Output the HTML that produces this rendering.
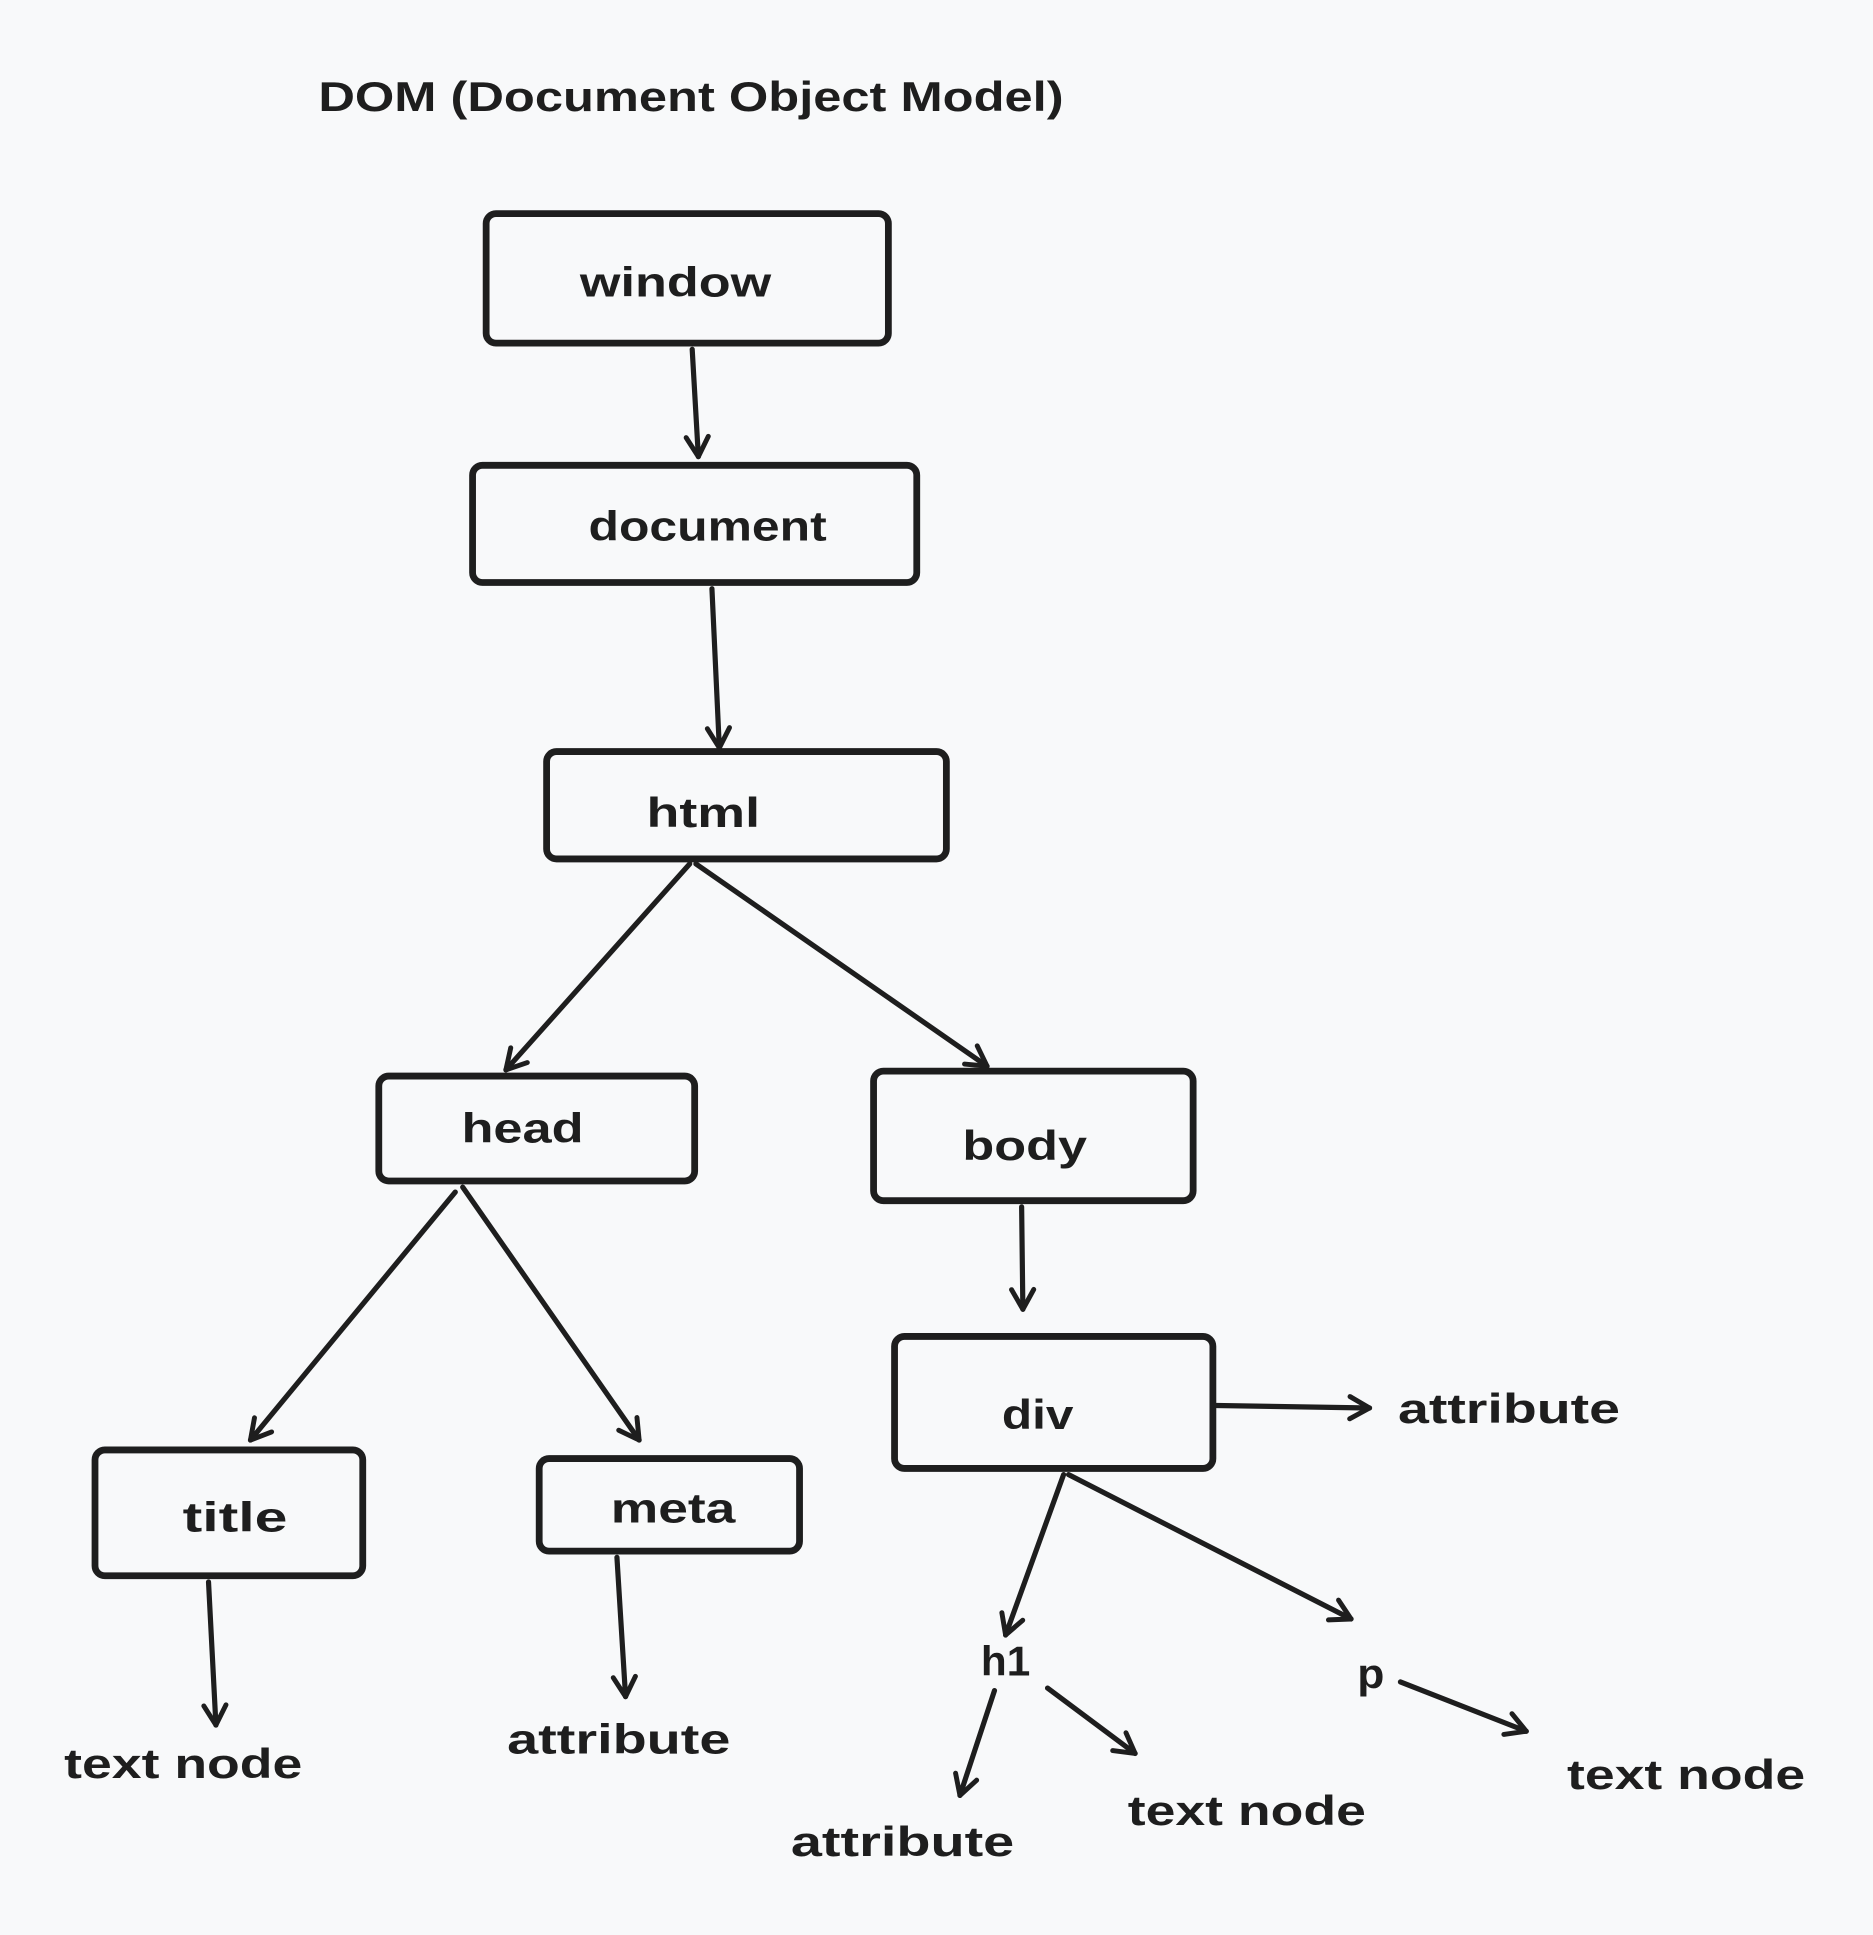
<!DOCTYPE html>
<html><head><meta charset="utf-8"><style>
html,body{margin:0;padding:0;background:#f8f9fa;}
svg{display:block}
text{font-family:"Liberation Sans",sans-serif;font-weight:bold;fill:#1e1e1e;}
</style></head><body>
<svg width="1873" height="1935" viewBox="0 0 1518 1568" xmlns="http://www.w3.org/2000/svg">
<rect width="1518" height="1568" fill="#f8f9fa"/>
<defs><marker id="a" viewBox="0 0 24 24" refX="20" refY="12" markerWidth="24" markerHeight="24" markerUnits="userSpaceOnUse" orient="auto"><path d="M4 3 L20 12 L4 21" fill="none" stroke="#1e1e1e" stroke-width="4" stroke-linecap="round" stroke-linejoin="round"/></marker></defs>
<g fill="none" stroke="#1e1e1e" stroke-width="5.5" stroke-linejoin="round">
<rect x="394" y="173" width="326" height="105" rx="8"/>
<rect x="383" y="377" width="360" height="95" rx="8"/>
<rect x="443" y="609" width="324" height="87" rx="8"/>
<rect x="307" y="872" width="256" height="85" rx="8"/>
<rect x="708" y="868" width="259" height="105" rx="8"/>
<rect x="77" y="1175" width="217" height="102" rx="8"/>
<rect x="437" y="1182" width="211" height="75" rx="8"/>
<rect x="725" y="1083" width="258" height="107" rx="8"/>
</g>
<g stroke="#1e1e1e" stroke-width="4.2" stroke-linecap="round" marker-end="url(#a)">
<line x1="561" y1="283" x2="566" y2="370"/>
<line x1="577" y1="477" x2="583" y2="606"/>
<line x1="559" y1="700" x2="410" y2="867"/>
<line x1="564" y1="700" x2="800" y2="864"/>
<line x1="369" y1="966" x2="203" y2="1167"/>
<line x1="375" y1="962" x2="518" y2="1167"/>
<line x1="828" y1="978" x2="829" y2="1061"/>
<line x1="986" y1="1139" x2="1110" y2="1141"/>
<line x1="169" y1="1282" x2="175" y2="1398"/>
<line x1="500" y1="1262" x2="507" y2="1375"/>
<line x1="862" y1="1195" x2="815" y2="1325"/>
<line x1="866" y1="1195" x2="1095" y2="1312"/>
<line x1="806" y1="1370" x2="778" y2="1455"/>
<line x1="849" y1="1368" x2="920" y2="1421"/>
<line x1="1135" y1="1363" x2="1237" y2="1403"/>
</g>
<g font-size="34">
<text x="258" y="90" textLength="604" lengthAdjust="spacingAndGlyphs">DOM (Document Object Model)</text>
<text x="470" y="240" textLength="155" lengthAdjust="spacingAndGlyphs">window</text>
<text x="477" y="438" textLength="193" lengthAdjust="spacingAndGlyphs">document</text>
<text x="524" y="670" textLength="92" lengthAdjust="spacingAndGlyphs">html</text>
<text x="374" y="926" textLength="99" lengthAdjust="spacingAndGlyphs">head</text>
<text x="780" y="940" textLength="101" lengthAdjust="spacingAndGlyphs">body</text>
<text x="148" y="1241" textLength="85" lengthAdjust="spacingAndGlyphs">title</text>
<text x="495" y="1234" textLength="101" lengthAdjust="spacingAndGlyphs">meta</text>
<text x="812" y="1158" textLength="58" lengthAdjust="spacingAndGlyphs">div</text>
<text x="1133" y="1153" textLength="180" lengthAdjust="spacingAndGlyphs">attribute</text>
<text x="52" y="1441" textLength="193" lengthAdjust="spacingAndGlyphs">text node</text>
<text x="411" y="1421" textLength="181" lengthAdjust="spacingAndGlyphs">attribute</text>
<text x="795" y="1358" textLength="40" lengthAdjust="spacingAndGlyphs">h1</text>
<text x="1100" y="1368" textLength="22" lengthAdjust="spacingAndGlyphs">p</text>
<text x="641" y="1504" textLength="181" lengthAdjust="spacingAndGlyphs">attribute</text>
<text x="914" y="1479" textLength="193" lengthAdjust="spacingAndGlyphs">text node</text>
<text x="1270" y="1450" textLength="193" lengthAdjust="spacingAndGlyphs">text node</text>
</g>
</svg>
</body></html>
